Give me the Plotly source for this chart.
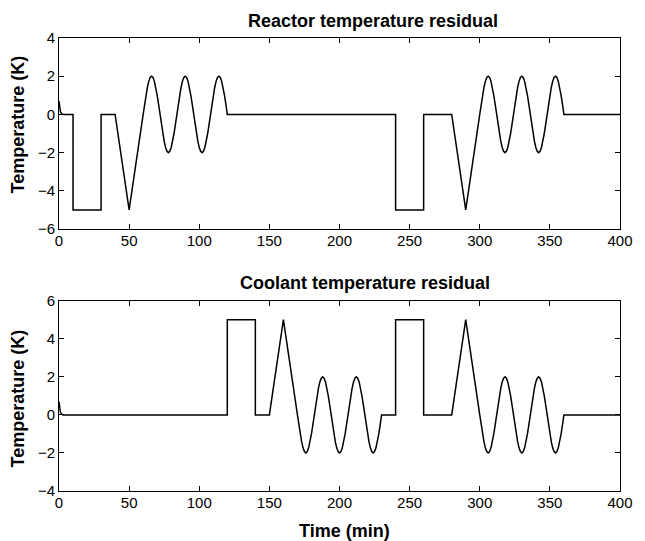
import plotly.graph_objects as go
from plotly.subplots import make_subplots

# ---- data (time in min, residual in K) ----
# sine-shaped pieces sampled every minute (amplitude 2 K, period 24 min)
wave_up_start = [0, 0.52, 1.0, 1.41, 1.73, 1.93, 2.0, 1.93, 1.73, 1.41, 1.0, 0.52,
                 0, -0.52, -1.0, -1.41, -1.73, -1.93, -2.0, -1.93, -1.73, -1.41, -1.0, -0.52,
                 0, 0.52, 1.0, 1.41, 1.73, 1.93, 2.0, 1.93, 1.73, 1.41, 1.0, 0.52,
                 0, -0.52, -1.0, -1.41, -1.73, -1.93, -2.0, -1.93, -1.73, -1.41, -1.0, -0.52,
                 0, 0.52, 1.0, 1.41, 1.73, 1.93, 2.0, 1.93, 1.73, 1.41, 1.0, 0.52, 0]
wave_down_start = [0, -0.52, -1.0, -1.41, -1.73, -1.93, -2.0, -1.93, -1.73, -1.41, -1.0, -0.52,
                   0, 0.52, 1.0, 1.41, 1.73, 1.93, 2.0, 1.93, 1.73, 1.41, 1.0, 0.52,
                   0, -0.52, -1.0, -1.41, -1.73, -1.93, -2.0, -1.93, -1.73, -1.41, -1.0, -0.52,
                   0, 0.52, 1.0, 1.41, 1.73, 1.93, 2.0, 1.93, 1.73, 1.41, 1.0, 0.52,
                   0, -0.52, -1.0, -1.41, -1.73, -1.93, -2.0, -1.93, -1.73, -1.41, -1.0, -0.52, 0]

start_time = [0, 1, 2, 3]
start_value = [0.7, 0.15, 0.03, 0]

# Reactor temperature residual
reactor_time = (start_time
                + [10, 10, 30, 30, 40, 50]
                + list(range(60, 121))
                + [240, 240, 260, 260, 280, 290]
                + list(range(300, 361))
                + [400])
reactor_value = (start_value
                 + [0, -5, -5, 0, 0, -5]
                 + wave_up_start
                 + [0, -5, -5, 0, 0, -5]
                 + wave_up_start
                 + [0])

# Coolant temperature residual
coolant_time = (start_time
                + [120, 120, 140, 140, 150, 160]
                + list(range(170, 231))
                + [240, 240, 260, 260, 280, 290]
                + list(range(300, 361))
                + [400])
coolant_value = (start_value
                 + [0, 5, 5, 0, 0, 5]
                 + wave_down_start
                 + [0, 5, 5, 0, 0, 5]
                 + wave_down_start
                 + [0])

x_ticks = [0, 50, 100, 150, 200, 250, 300, 350, 400]
reactor_yticks = [-6, -4, -2, 0, 2, 4]
coolant_yticks = [-4, -2, 0, 2, 4, 6]

# ---- figure (page body has an 8px margin, so the figure is 8px smaller) ----
OFF = 8
W, H = 645 - OFF, 541 - OFF
ML, MR, MT, MB = 59 - OFF, 18, 38 - OFF, 50
PH = H - MT - MB
PW = W - ML - MR

fig = make_subplots(rows=2, cols=1)
line = dict(color="black", width=1.5)
fig.add_trace(go.Scatter(x=reactor_time, y=reactor_value, mode="lines", line=line,
                         showlegend=False), row=1, col=1)
fig.add_trace(go.Scatter(x=coolant_time, y=coolant_value, mode="lines", line=line,
                         showlegend=False), row=2, col=1)

FONT = "Liberation Sans, Arial, Helvetica, sans-serif"
axis_common = dict(showline=True, linecolor="black", linewidth=1, mirror="ticks",
                   ticks="inside", ticklen=5, tickcolor="black", showgrid=False,
                   zeroline=False, tickfont=dict(family=FONT, size=15, color="black"))

fig.update_xaxes(range=[0, 400], tickvals=x_ticks, ticklabelstandoff=-2, **axis_common)
fig.update_yaxes(**axis_common)
fig.update_yaxes(range=[-6, 4], tickvals=reactor_yticks, row=1, col=1)
fig.update_yaxes(range=[-4, 6], tickvals=coolant_yticks, row=2, col=1)

def py(p):
    # p = pixel row in the 645x541 window
    return (H - MB - (p - OFF)) / PH

def px(p):
    # p = pixel column in the 645x541 window
    return (p - 59) / PW

fig.update_layout(
    width=W, height=H,
    margin=dict(l=ML, r=MR, t=MT, b=MB),
    paper_bgcolor="white", plot_bgcolor="white",
    font=dict(family=FONT, color="black"),
    xaxis=dict(domain=[0, 1]),
    yaxis=dict(domain=[py(229), 1]),
    xaxis2=dict(domain=[0, 1]),
    yaxis2=dict(domain=[0, py(300.7)]),
)

bold = dict(family=FONT, size=18, color="black")
ann = [
    dict(text="<b>Reactor temperature residual</b>", x=px(376.5), y=py(21)),
    dict(text="<b>Coolant temperature residual</b>", x=px(368.5), y=py(283)),
    dict(text="<b>Time (min)</b>", x=px(348.5), y=py(531)),
]
for a in ann:
    fig.add_annotation(xref="paper", yref="paper", showarrow=False, font=bold,
                       xanchor="center", yanchor="middle", **a)
for p in [125, 399]:
    fig.add_annotation(text="<b>Temperature (K)</b>", xref="paper", yref="paper",
                       x=px(17), y=py(p), textangle=-90,
                       showarrow=False, font=bold, xanchor="center", yanchor="middle")

fig.write_html("out.html", config={"displayModeBar": False})
